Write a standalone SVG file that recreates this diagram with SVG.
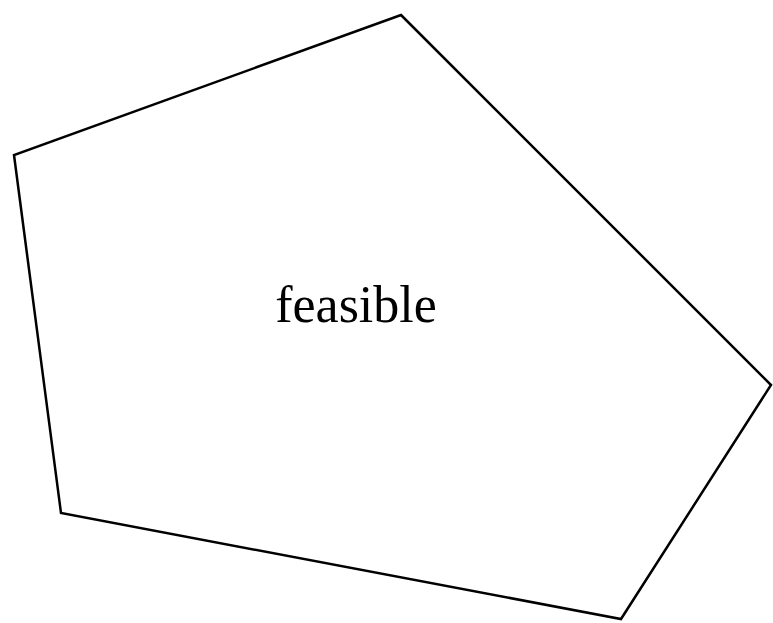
<svg xmlns="http://www.w3.org/2000/svg" width="773" height="623" viewBox="0 0 773 623">
<style>
.shape{fill:#fff;stroke:#000;stroke-width:2.5;stroke-linejoin:miter}
.lbl{font-family:"Liberation Serif","DejaVu Serif",serif;font-size:52px;fill:#000;text-anchor:middle}
</style>
<rect width="773" height="623" fill="#fff"/>
<g id="feasible">
<polygon class="shape" points="401,15 771,385 621,619 61,513 14,155"/>
<text class="lbl" x="356" y="322">feasible</text>
</g>
</svg>
